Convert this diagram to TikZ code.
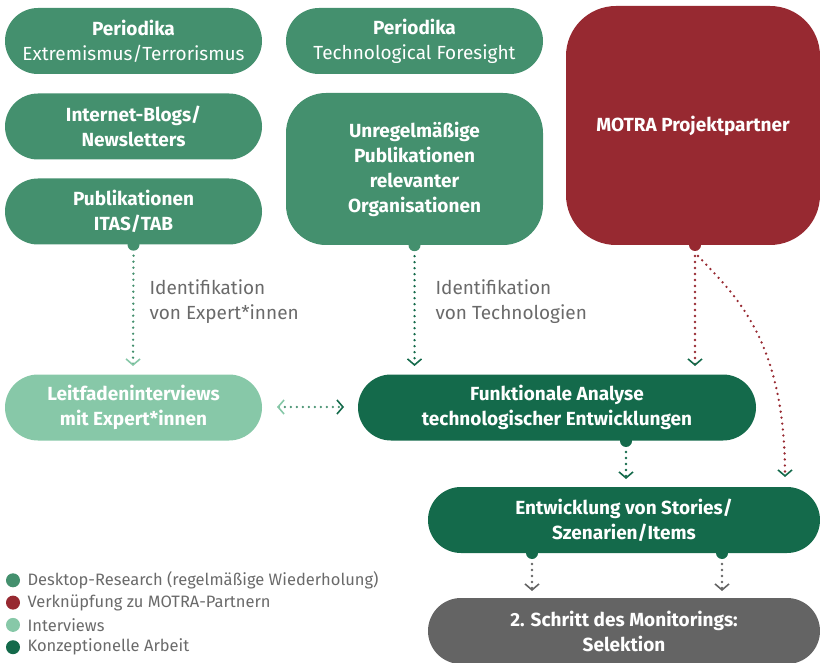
\documentclass[tikz,border=0pt]{standalone}
\usepackage{fontspec}
\setmainfont{Fira Sans}
\usepackage{tikz}
\usetikzlibrary{arrows.meta}
\definecolor{desk}{HTML}{44906E}
\definecolor{motra}{HTML}{972931}
\definecolor{interv}{HTML}{87C8A8}
\definecolor{konz}{HTML}{146A4B}
\definecolor{schritt}{HTML}{646464}
\definecolor{txtgray}{HTML}{6A6A6A}
\begin{document}
\begin{tikzpicture}[x=1pt, y=-1pt,
    box/.style={rounded corners=33pt, minimum width=257pt, minimum height=66pt,
      align=center, text=white, inner sep=0pt,
      font=\fontsize{19}{25}\selectfont\bfseries},
    tab/.style={circle, inner sep=0pt, minimum size=12pt},
    dotline/.style={line width=2.6pt, line cap=round, dash pattern=on 0pt off 6pt},
    chev/.style={-{Straight Barb[length=6pt, width=14pt, line width=1.6pt, #1]}},
    note/.style={text=txtgray, align=left, anchor=west,
      font=\fontsize{19}{25}\selectfont}]
  \clip (0, 0) rectangle (820, 663);
  % Desktop-Research
  \node[box, fill=desk] (ext) at (133.5, 41)
    {Periodika\\\mdseries Extremismus/Terrorismus};
  \node[box, fill=desk] (blogs) at (133.5, 126.5) {Internet-Blogs/\\Newsletters};
  \node[box, fill=desk] (pub) at (133.5, 211.5) {Publikationen\\ITAS/TAB};
  \node[box, fill=desk] (tech) at (414.5, 41)
    {Periodika\\\mdseries Technological Foresight};
  \node[box, fill=desk, minimum height=152pt, rounded corners=40pt] (unreg) at (414.5, 169)
    {Unregelmäßige\\Publikationen\\relevanter\\Organisationen};
  % MOTRA
  \node[box, fill=motra, minimum width=254pt, minimum height=239pt,
    rounded corners=50pt] (motra) at (693, 125.5) {MOTRA Projektpartner};
  % Interviews / konzeptionelle Arbeit
  \node[box, fill=interv] (leit) at (133.5, 407.5) {Leitfadeninterviews\\mit Expert*innen};
  \node[box, fill=konz, minimum width=398pt] (funk) at (557, 407.5)
    {Funktionale Analyse\\technologischer Entwicklungen};
  \node[box, fill=konz, minimum width=392pt] (entw) at (624, 520)
    {Entwicklung von Stories/\\Szenarien/Items};
  \node[box, fill=schritt, minimum width=392pt] (sel) at (624, 631)
    {2. Schritt des Monitorings:\\Selektion};

  % tabs
  \node[tab, fill=desk] (t1) at (pub.south) {};
  \node[tab, fill=desk] (t2) at (unreg.south) {};
  \node[tab, fill=motra] (t3) at (695, 245) {};
  \node[tab, fill=konz] (t4) at (626, 441) {};
  \node[tab, fill=konz] (t5) at (532, 553) {};
  \node[tab, fill=konz] (t6) at (722, 553) {};
  \coordinate (a1) at (133, 366);
  \coordinate (a2) at (414.5, 366);
  \coordinate (a3) at (695, 366);
  \coordinate (a4) at (626, 479);
  \coordinate (a5) at (785, 477);
  \coordinate (a6) at (532, 591);
  \coordinate (a7) at (722, 591);
  \coordinate (l1) at (277, 407);
  \coordinate (l2) at (344, 407);

  % connectors
  \draw[dotline, desk, chev={interv}] (t1.center) ++(0, 11) -- (a1);
  \draw[dotline, konz, chev={konz}] (t2.center) ++(0, 11) -- (a2);
  \draw[dotline, motra, chev={konz}] (t3.center) ++(0, 11) -- (a3);
  \draw[dotline, motra, chev={konz}] (t3.center) ++(3, 11)
    .. controls (735, 295) and (785, 340) .. (a5);
  \draw[dotline, konz, chev={konz}] (t4.center) ++(0, 11) -- (a4);
  \draw[dotline, schritt, chev={schritt}] (t5.center) ++(0, 11) -- (a6);
  \draw[dotline, schritt, chev={schritt}] (t6.center) ++(0, 11) -- (a7);
  \draw[dotline, desk, {Straight Barb[length=6pt, width=14pt, line width=1.6pt, interv]}-{Straight Barb[length=6pt, width=14pt, line width=1.6pt, konz]}]
    (l1) -- (l2);

  \node[note] (n1) at (146, 302) {Identifikation\\von Expert*innen};
  \node[note] (n2) at (432, 302) {Identifikation\\von Technologien};

  % legend
  \foreach \c/\t [count=\i] in {desk/Desktop-Research (regelmäßige Wiederholung),
      motra/Verknüpfung zu MOTRA-Partnern, interv/Interviews, konz/Konzeptionelle Arbeit} {
    \fill[\c] (13, 558 + 22.3*\i) circle (7);
    \node[anchor=west, text=txtgray, font=\fontsize{16.5}{18}\selectfont] (leg\i)
      at (24, 558 + 22.3*\i) {\t};
  }
\end{tikzpicture}
\end{document}
